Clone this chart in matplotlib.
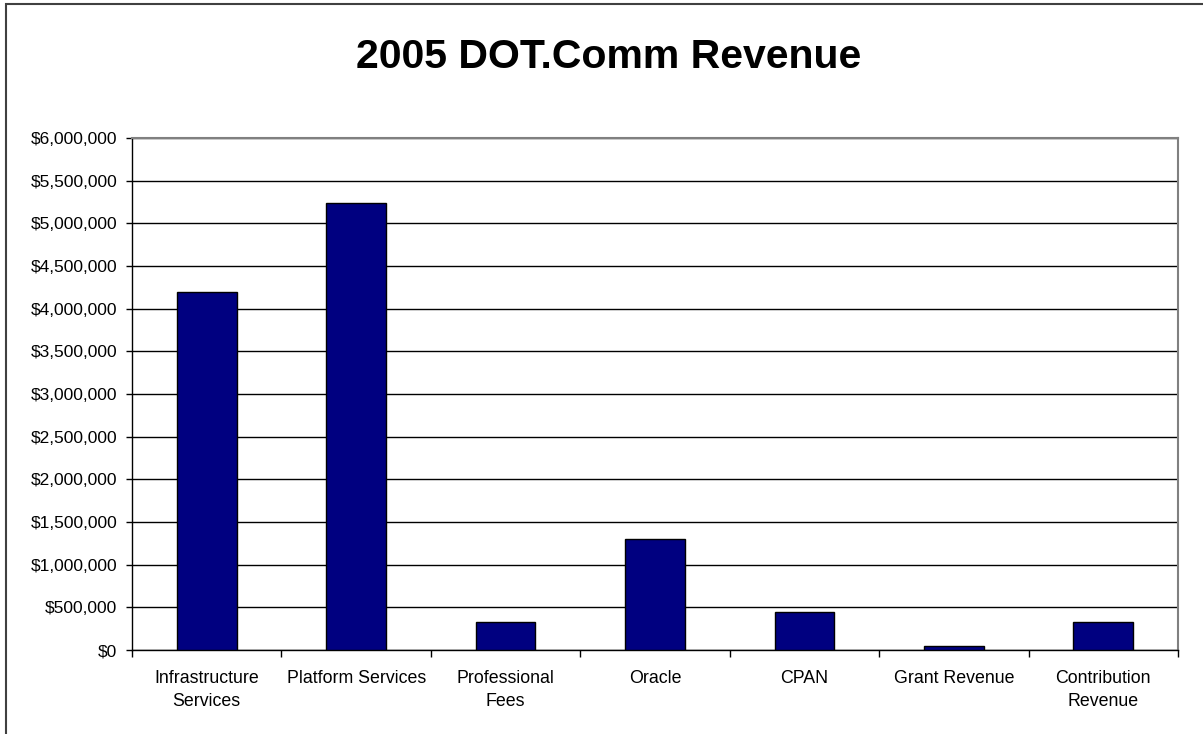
import matplotlib.pyplot as plt
from matplotlib.patches import Rectangle
from matplotlib.ticker import FuncFormatter, FixedLocator
import numpy as np

plt.rcParams['font.family'] = ['Liberation Sans', 'DejaVu Sans']

categories = ["Infrastructure\nServices", "Platform Services", "Professional\nFees",
              "Oracle", "CPAN", "Grant Revenue", "Contribution\nRevenue"]
revenue = [4190000, 5240000, 330000, 1300000, 450000, 45000, 330000]


def dollars(v, pos):
    return "$%s" % format(int(v), ",")


def main():
    fig = plt.figure(figsize=(12.03, 7.34), dpi=100)

    # outer chart border (only left and top visible in the original)
    fig.patches.append(Rectangle((6 / 1203, -0.1), 1.2, (734 - 4) / 734 + 0.1,
                                 transform=fig.transFigure, fill=False,
                                 edgecolor="#404040", linewidth=1.5))

    ax = fig.add_axes([132 / 1203, (734 - 650) / 734, (1178 - 132) / 1203, (650 - 138) / 734])
    x = np.arange(len(categories))
    ax.bar(x, revenue, width=0.4, color="#000080", edgecolor="black", linewidth=1, zorder=3)

    ax.set_xlim(-0.5, len(categories) - 0.5)
    ax.set_ylim(0, 6000000)
    ax.set_yticks(np.arange(0, 6000001, 500000))
    ax.yaxis.set_major_formatter(FuncFormatter(dollars))
    ax.grid(axis="y", color="black", linewidth=1, zorder=1)

    ax.set_xticks(x)
    ax.set_xticklabels(categories, fontsize=12.8, linespacing=1.42)
    ax.tick_params(axis="x", which="major", length=0, pad=14.5)
    ax.xaxis.set_minor_locator(FixedLocator(np.arange(-0.5, len(categories), 1.0)))
    ax.tick_params(axis="x", which="minor", length=5, width=1, color="black")
    ax.tick_params(axis="y", length=4.5, width=1, labelsize=12.5, pad=6)

    for side in ["top", "right"]:
        ax.spines[side].set_color("#808080")
        ax.spines[side].set_linewidth(1.5)
    for side in ["left", "bottom"]:
        ax.spines[side].set_color("black")
        ax.spines[side].set_linewidth(1)

    fig.text(609 / 1203, (734 - 57) / 734, "2005 DOT.Comm Revenue", ha="center", va="center",
             fontsize=29.5, fontweight="bold")

    fig.savefig("out.png", dpi=100)


if __name__ == '__main__':
    main()
